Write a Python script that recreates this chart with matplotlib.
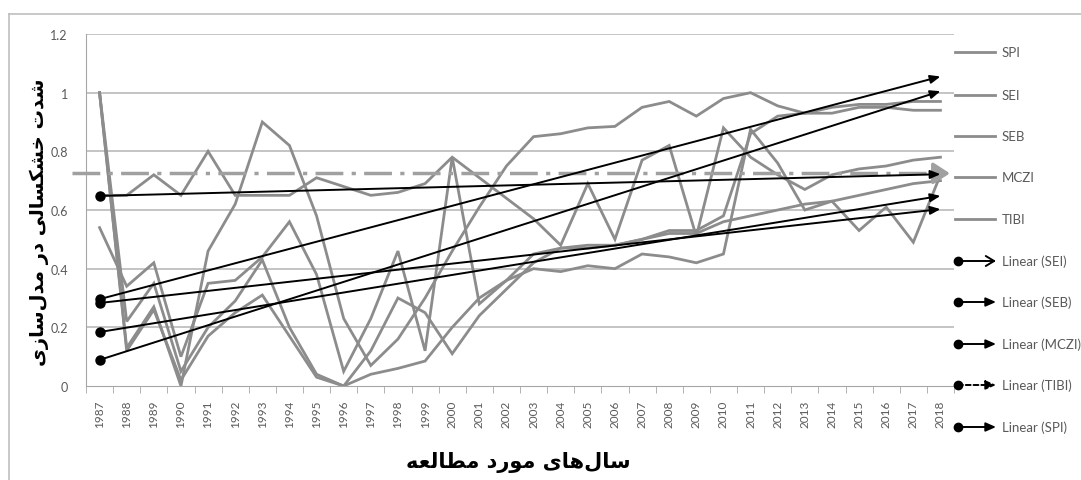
import numpy as np
import matplotlib
matplotlib.use('Agg')
import matplotlib.pyplot as plt
from matplotlib.lines import Line2D
from matplotlib.patches import FancyArrowPatch

# ---------------- data ----------------
years = list(range(1987, 2019))
series_labels = ['SPI', 'SEI', 'SEB', 'MCZI', 'TIBI']
spi = [1.00, 0.13, 0.27, 0.00, 0.46, 0.62, 0.90, 0.82, 0.58, 0.23,
       0.07, 0.16, 0.30, 0.46, 0.61, 0.75, 0.85, 0.86, 0.88, 0.885,
       0.95, 0.97, 0.92, 0.98, 1.00, 0.955, 0.93, 0.93, 0.95, 0.95,
       0.94, 0.94]
sei = [1.00, 0.22, 0.35, 0.05, 0.20, 0.29, 0.43, 0.20, 0.04, 0.00,
       0.12, 0.30, 0.25, 0.11, 0.24, 0.33, 0.42, 0.47, 0.47, 0.48,
       0.50, 0.53, 0.53, 0.58, 0.86, 0.92, 0.93, 0.95, 0.96, 0.96,
       0.97, 0.97]
seb = [0.65, 0.65, 0.72, 0.65, 0.80, 0.65, 0.65, 0.65, 0.71, 0.68,
       0.65, 0.66, 0.69, 0.78, 0.71, 0.64, 0.57, 0.48, 0.69, 0.50,
       0.77, 0.82, 0.51, 0.88, 0.78, 0.72, 0.67, 0.72, 0.74, 0.75,
       0.77, 0.78]
mczi = [0.54, 0.34, 0.42, 0.10, 0.35, 0.36, 0.44, 0.56, 0.38, 0.05,
        0.23, 0.46, 0.12, 0.78, 0.28, 0.36, 0.40, 0.39, 0.41, 0.40,
        0.45, 0.44, 0.42, 0.45, 0.875, 0.76, 0.60, 0.63, 0.53, 0.61,
        0.49, 0.72]
tibi = [1.00, 0.12, 0.26, 0.02, 0.17, 0.25, 0.31, 0.17, 0.03, 0.00,
        0.04, 0.06, 0.085, 0.20, 0.30, 0.36, 0.45, 0.47, 0.48, 0.48,
        0.50, 0.52, 0.52, 0.56, 0.58, 0.60, 0.62, 0.63, 0.65, 0.67,
        0.69, 0.70]
# linear trend lines (value at 1987, value at 2018)
trend_start = [0.296, 0.283, 0.184, 0.089, 0.648]
trend_end = [1.055, 0.603, 0.648, 1.005, 0.722]
ref_level = 0.725
legend_labels = ['SPI', 'SEI', 'SEB', 'MCZI', 'TIBI',
                 'Linear (SEI)', 'Linear (SEB)', 'Linear (MCZI)',
                 'Linear (TIBI)', 'Linear (SPI)']
y_ticks = [0, 0.2, 0.4, 0.6, 0.8, 1, 1.2]
y_tick_labels = ['0', '0.2', '0.4', '0.6', '0.8', '1', '1.2']
y_title = 'شدت خشکسالی در مدل\u200cسازی'
x_title = 'سال\u200cهای مورد مطالعه'

# -------- simple Arabic/Persian shaping for display --------
FORMS = {  # isolated, final, initial, medial
    '\u0627': ('\uFE8D', '\uFE8E', None, None),
    '\u062F': ('\uFEA9', '\uFEAA', None, None),
    '\u0631': ('\uFEAD', '\uFEAE', None, None),
    '\u0632': ('\uFEAF', '\uFEB0', None, None),
    '\u0648': ('\uFEED', '\uFEEE', None, None),
    '\u062A': ('\uFE95', '\uFE96', '\uFE97', '\uFE98'),
    '\u062E': ('\uFEA5', '\uFEA6', '\uFEA7', '\uFEA8'),
    '\u0633': ('\uFEB1', '\uFEB2', '\uFEB3', '\uFEB4'),
    '\u0634': ('\uFEB5', '\uFEB6', '\uFEB7', '\uFEB8'),
    '\u0637': ('\uFEC1', '\uFEC2', '\uFEC3', '\uFEC4'),
    '\u0639': ('\uFEC9', '\uFECA', '\uFECB', '\uFECC'),
    '\u0644': ('\uFEDD', '\uFEDE', '\uFEDF', '\uFEE0'),
    '\u0645': ('\uFEE1', '\uFEE2', '\uFEE3', '\uFEE4'),
    '\u0647': ('\uFEE9', '\uFEEA', '\uFEEB', '\uFEEC'),
    '\u06A9': ('\uFB8E', '\uFB8F', '\uFB90', '\uFB91'),
    '\u06CC': ('\uFBFC', '\uFBFD', '\uFBFE', '\uFBFF'),
}


def shape(text):
    out = []
    n = len(text)
    for i, ch in enumerate(text):
        if ch == '\u200c':
            continue
        if ch not in FORMS:
            out.append(ch)
            continue
        prev = text[i - 1] if i > 0 else ''
        nxt = text[i + 1] if i < n - 1 else ''
        jp = prev in FORMS and FORMS[prev][2] is not None
        jn = FORMS[ch][2] is not None and nxt in FORMS
        iso, fin, ini, med = FORMS[ch]
        if jp and jn:
            out.append(med)
        elif jp:
            out.append(fin)
        elif jn:
            out.append(ini)
        else:
            out.append(iso)
    return ''.join(reversed(out))


# ---------------- figure ----------------
W, H = 1081, 481
fig = plt.figure(figsize=(W / 100, H / 100), dpi=100)
fig.patch.set_facecolor('white')


def fx(x):
    return x / W


def fy(y):
    return 1 - y / H


ax = fig.add_axes([fx(86), fy(387), fx(954) - fx(86), fy(35) - fy(387)])
x = np.arange(len(years))
ax.set_xlim(-0.5, len(years) - 0.5)
ax.set_ylim(0, 1.2)

grid_c = '#b4b4b4'
for v in y_ticks[1:]:
    ax.axhline(v, color=grid_c, lw=1.1, zorder=1)

series_color = '#8c8c8c'
for vals in [spi, sei, seb, mczi, tibi]:
    ax.plot(x, vals, color=series_color, lw=2, zorder=2, solid_joinstyle='miter')

# gray dash-dot reference line with arrow
ax.plot([-1.02, 31.0], [ref_level, ref_level], color='#a0a0a0', lw=2.5,
        linestyle=(0, (8, 2.4, 1.2, 2.4)), clip_on=False, zorder=3)
ax.annotate('', xy=(31.45, ref_level), xytext=(30.6, ref_level),
            arrowprops=dict(arrowstyle='-|>,head_length=1.0,head_width=0.65',
                            color='#a0a0a0', lw=2.5),
            annotation_clip=False, zorder=3)

# black trend lines
for s, e in zip(trend_start, trend_end):
    ax.annotate('', xy=(x[-1], e), xytext=(x[0], s),
                arrowprops=dict(arrowstyle='-|>,head_length=0.6,head_width=0.25',
                                color='black', lw=1.4, shrinkA=0, shrinkB=0),
                zorder=4)
    ax.plot([x[0]], [s], 'o', color='black', ms=6.5, zorder=5)

# axes styling
for sp in ['top', 'right']:
    ax.spines[sp].set_visible(False)
ax.spines['left'].set_color('#a6a6a6')
ax.spines['bottom'].set_color('#a6a6a6')
ax.set_yticks(y_ticks)
ax.set_yticklabels(y_tick_labels, fontsize=9, color='#595959',
                   family=['Lato', 'DejaVu Sans'])
ax.tick_params(axis='y', length=0, pad=13)
ax.set_xticks(x)
ax.set_xticklabels([str(y) for y in years], rotation=90, fontsize=8.5,
                   color='#595959', family=['Lato', 'DejaVu Sans'])
ax.tick_params(axis='x', length=0, pad=10)
ax.set_xticks(np.arange(-0.5, len(years), 1), minor=True)
ax.tick_params(axis='x', which='minor', length=5, color='#a6a6a6')

# titles
fig.text(fx(39), fy(222), shape(y_title), rotation=90, ha='center', va='center',
         fontsize=14, fontweight='bold', family=['DejaVu Sans'], color='black')
fig.text(fx(518), fy(463), shape(x_title), ha='center', va='center',
         fontsize=15, fontweight='bold', family=['DejaVu Sans'], color='black')

# legend (drawn manually on the right)
leg_y = [53, 96, 137, 178, 220, 262, 303, 345, 386, 428]
for i, lab in enumerate(legend_labels):
    yy = fy(leg_y[i])
    if i < 5:
        fig.add_artist(Line2D([fx(955), fx(995)], [yy, yy], color=series_color, lw=2,
                              transform=fig.transFigure))
    else:
        style = '-|>,head_length=0.5,head_width=0.22'
        ls = '-'
        if lab == 'Linear (SEI)':
            style = '->,head_length=0.5,head_width=0.3'
        if lab == 'Linear (TIBI)':
            ls = (0, (2.5, 1.5))
        fig.add_artist(FancyArrowPatch((fx(958), yy), (fx(996), yy),
                                       transform=fig.transFigure, arrowstyle=style,
                                       mutation_scale=12, color='black', lw=1.4,
                                       linestyle=ls, shrinkA=0, shrinkB=0))
        fig.add_artist(Line2D([fx(958)], [yy], marker='o', color='black', ms=6,
                              transform=fig.transFigure))
    fig.text(fx(1002), yy, lab, ha='left', va='center', fontsize=9.5,
             color='#595959', family=['Lato', 'DejaVu Sans'])

# outer chart border (left and top)
fig.add_artist(Line2D([fx(9), fx(9)], [fy(15), 0], color='#bfbfbf', lw=1.2,
                      transform=fig.transFigure))
fig.add_artist(Line2D([fx(9), 1], [fy(15), fy(15)], color='#bfbfbf', lw=1.2,
                      transform=fig.transFigure))

fig.savefig('out.png', dpi=100, facecolor='white')
